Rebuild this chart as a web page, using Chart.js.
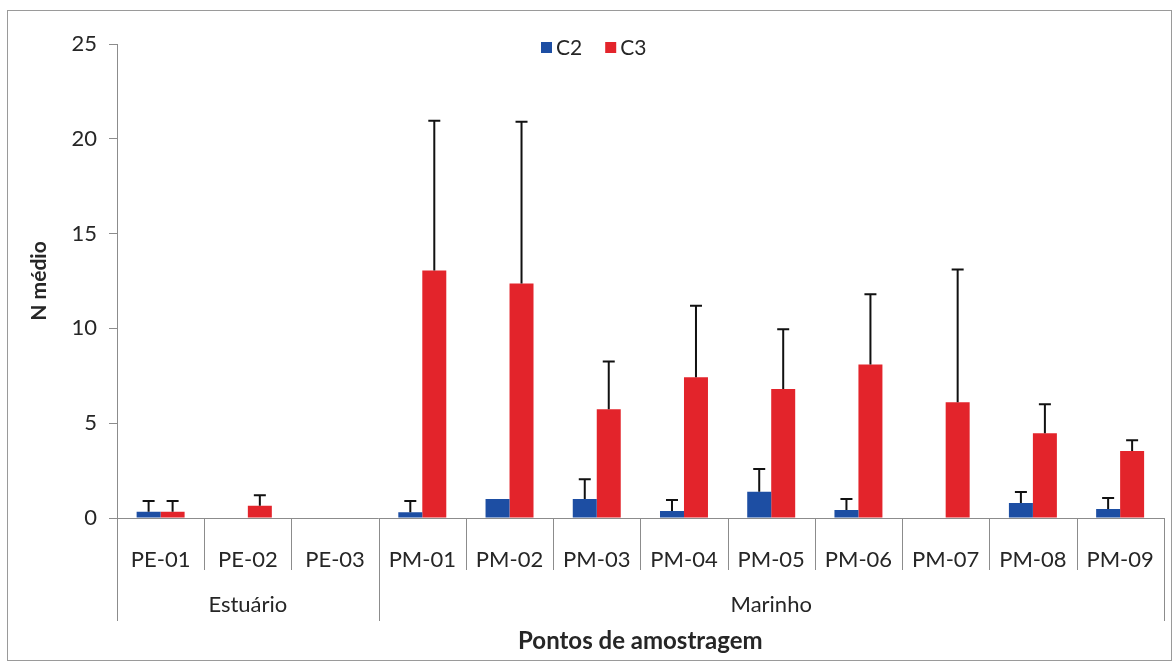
<!DOCTYPE html>
<html>
<head>
<meta charset="utf-8">
<script src="https://cdn.jsdelivr.net/npm/chart.js@4.4.1/dist/chart.umd.min.js"></script>
<style>
  html, body { margin: 0; padding: 0; background: #fff; }
  #wrap { width: 1175px; height: 665px; }
</style>
</head>
<body>
<div id="wrap"><canvas id="chart" width="1175" height="665"></canvas></div>
<script>
// data
const categories = ['PE-01', 'PE-02', 'PE-03', 'PM-01', 'PM-02', 'PM-03', 'PM-04', 'PM-05', 'PM-06', 'PM-07', 'PM-08', 'PM-09'];
const c2Values = [0.33, 0, 0, 0.3, 1.0, 1.0, 0.37, 1.38, 0.42, 0, 0.79, 0.47];
const c2Errors = [0.57, 0, 0, 0.6, 0, 1.05, 0.58, 1.2, 0.58, 0, 0.58, 0.58];
const c3Values = [0.33, 0.65, 0, 13.05, 12.37, 5.74, 7.42, 6.8, 8.1, 6.1, 4.47, 3.53];
const c3Errors = [0.57, 0.55, 0, 7.9, 8.53, 2.52, 3.78, 3.15, 3.7, 7.0, 1.53, 0.57];
const groupNames = ['Estuário', 'Marinho'];
const groupSizes = [3, 9];
const yTicks = [0, 5, 10, 15, 20, 25];

const FONT = 'Lato, "Open Sans", sans-serif';
const TEXT = '#262626';
const AXIS = '#8c8c8c';

// error bars (upper only), cap + stem
const errorBars = {
    id: 'errorBars',
    afterDatasetsDraw(chart) {
        const ctx = chart.ctx;
        const y = chart.scales.y;
        const errs = [c2Errors, c3Errors];
        ctx.save();
        ctx.strokeStyle = '#111';
        ctx.lineWidth = 2;
        chart.data.datasets.forEach((ds, di) => {
            chart.getDatasetMeta(di).data.forEach((bar, i) => {
                const e = errs[di][i];
                if (!e) return;
                const top = y.getPixelForValue(ds.data[i] + e);
                ctx.beginPath();
                ctx.moveTo(bar.x, bar.y);
                ctx.lineTo(bar.x, top);
                ctx.moveTo(bar.x - 6, top);
                ctx.lineTo(bar.x + 6, top);
                ctx.stroke();
            });
        });
        ctx.restore();
    }
};

// frame, category dividers, group labels, x title, legend
const decorations = {
    id: 'decorations',
    beforeDraw(chart) {
        const ctx = chart.ctx;
        ctx.save();
        ctx.fillStyle = '#fff';
        ctx.fillRect(0, 0, chart.width, chart.height);
        ctx.strokeStyle = '#9a9a9a';
        ctx.lineWidth = 1;
        ctx.strokeRect(7.5, 10.5, 1164, 650);
        ctx.restore();
    },
    afterDraw(chart) {
        const ctx = chart.ctx;
        const area = chart.chartArea;
        const n = categories.length;
        const step = (area.right - area.left) / n;
        ctx.save();
        ctx.strokeStyle = AXIS;
        ctx.lineWidth = 1;
        // boundaries
        const groupEdges = [0];
        groupSizes.reduce((acc, s) => { groupEdges.push(acc + s); return acc + s; }, 0);
        for (let i = 0; i <= n; i++) {
            const px = Math.round(area.left + i * step) + 0.5;
            const long = groupEdges.includes(i);
            ctx.beginPath();
            ctx.moveTo(px, area.bottom);
            ctx.lineTo(px, area.bottom + (long ? 103 : 52));
            ctx.stroke();
        }
        // group labels
        ctx.fillStyle = TEXT;
        ctx.font = '22px ' + FONT;
        ctx.textAlign = 'center';
        ctx.textBaseline = 'middle';
        let start = 0;
        groupNames.forEach((g, gi) => {
            const end = start + groupSizes[gi];
            const cx = area.left + (start + end) / 2 * step;
            ctx.fillText(g, cx, 605);
            start = end;
        });
        // x title
        ctx.font = 'bold 24px ' + FONT;
        ctx.fillText('Pontos de amostragem', (area.left + area.right) / 2, 641);
        // legend
        ctx.font = '21px ' + FONT;
        ctx.textAlign = 'left';
        let lx = 541;
        chart.data.datasets.forEach(ds => {
            ctx.fillStyle = ds.backgroundColor;
            ctx.fillRect(lx, 42, 11, 11);
            ctx.fillStyle = TEXT;
            ctx.fillText(ds.label, lx + 15, 48);
            lx += ctx.measureText(ds.label).width + 15 + 23;
        });
        ctx.restore();
    }
};

new Chart(document.getElementById('chart'), {
    type: 'bar',
    data: {
        labels: categories,
        datasets: [
            { label: 'C2', data: c2Values, backgroundColor: '#1d4ea3' },
            { label: 'C3', data: c3Values, backgroundColor: '#e3242b' }
        ]
    },
    options: {
        responsive: false,
        animation: false,
        events: [],
        layout: { padding: { top: 44, right: 5, left: 27, bottom: 0 } },
        datasets: { bar: { categoryPercentage: 0.55, barPercentage: 1.0 } },
        plugins: {
            legend: { display: false },
            tooltip: { enabled: false }
        },
        scales: {
            x: {
                grid: { display: false },
                border: { color: AXIS, width: 1 },
                ticks: { color: TEXT, font: { family: FONT, size: 22 }, padding: 21, maxRotation: 0 },
                afterFit(scale) { scale.height = 147; }
            },
            y: {
                min: 0,
                max: 25,
                afterBuildTicks(scale) { scale.ticks = yTicks.map(v => ({ value: v })); },
                grid: { drawOnChartArea: false, drawTicks: true, tickLength: 8, color: AXIS },
                border: { color: AXIS, width: 1 },
                ticks: { color: TEXT, font: { family: FONT, size: 22 }, padding: 12 },
                title: { display: true, text: 'N médio', color: TEXT, font: { family: FONT, size: 21, weight: 'bold' }, padding: { top: 0, bottom: 4 } },
                afterFit(scale) { scale.width = 90; }
            }
        }
    },
    plugins: [errorBars, decorations]
});
</script>
</body>
</html>
